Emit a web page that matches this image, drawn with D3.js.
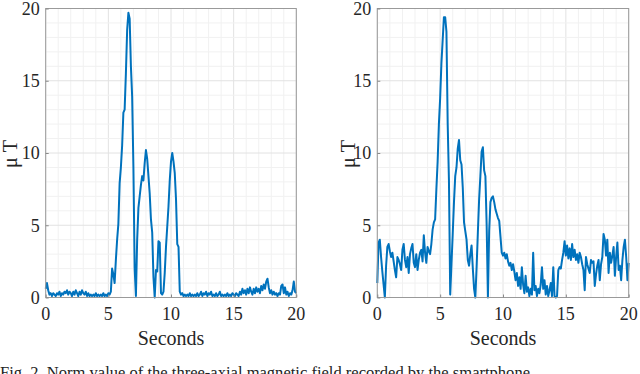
<!DOCTYPE html>
<html>
<head>
<meta charset="utf-8">
<script src="https://cdn.jsdelivr.net/npm/d3@7"></script>
<style>
	body { margin: 0; background: #fff; }
	svg { display: block; font-family: 'Liberation Serif', 'Times New Roman', serif; }
</style>
</head>
<body>
<svg id="chart" width="640" height="374"></svg>
<script>
const dt = 0.1;
const xTicks = [0, 5, 10, 15, 20];
const yTicks = [0, 5, 10, 15, 20];
const xLabel = 'Seconds';
const yLabel = 'μ T';
const caption = 'Fig. 2. Norm value of the three-axial magnetic field recorded by the smartphone';

// one row per second, 0.1 s apart
const leftField = [
	0.6, 1.0, 0.5, 0.2, 0.3, 0.1, 0.3, 0.2, 0.1, 0.3,
	0.2, 0.4, 0.1, 0.3, 0.2, 0.4, 0.3, 0.5, 0.2, 0.4,
	0.3, 0.1, 0.4, 0.2, 0.5, 0.3, 0.1, 0.4, 0.2, 0.5,
	0.3, 0.2, 0.4, 0.1, 0.3, 0.1, 0.2, 0.1, 0.2, 0.1,
	0.3, 0.1, 0.2, 0.1, 0.2, 0.1, 0.3, 0.1, 0.2, 0.1,
	0.3, 0.2, 0.4, 2.0, 1.6, 1.0, 2.6, 4.0, 5.1, 7.9,
	9.0, 10.5, 12.8, 13.0, 15.5, 18.5, 19.7, 19.3, 16.0, 13.9,
	9.0, 2.0, 0.1, 4.0, 6.2, 7.0, 7.8, 8.4, 8.1, 9.3,
	10.2, 9.6, 8.4, 7.2, 5.4, 4.5, 1.4, 0.0, 1.9, 1.8,
	3.9, 3.8, 0.3, 0.2, 0.4, 1.7, 3.5, 4.9, 6.3, 8.1,
	9.4, 10.0, 9.4, 8.6, 6.8, 3.7, 3.5, 0.4, 0.2, 0.3,
	0.1, 0.2, 0.1, 0.2, 0.1, 0.3, 0.1, 0.2, 0.1, 0.2,
	0.1, 0.3, 0.1, 0.2, 0.4, 0.1, 0.3, 0.2, 0.4, 0.1,
	0.3, 0.2, 0.4, 0.1, 0.2, 0.1, 0.3, 0.1, 0.2, 0.4,
	0.1, 0.2, 0.1, 0.2, 0.1, 0.3, 0.1, 0.2, 0.1, 0.3,
	0.2, 0.1, 0.3, 0.2, 0.1, 0.4, 0.2, 0.6, 0.3, 0.5,
	0.2, 0.6, 0.3, 0.7, 0.4, 0.2, 0.6, 0.3, 0.7, 0.4,
	0.6, 0.3, 0.8, 0.5, 0.9, 0.6, 1.1, 1.3, 0.7, 0.3,
	0.5, 0.2, 0.4, 0.2, 0.3, 0.1, 0.3, 0.2, 0.8, 0.9,
	0.3, 0.7, 0.2, 0.4, 0.1, 0.3, 0.2, 0.5, 1.1, 0.4,
	0.3
];

const rightField = [
	1.0, 3.8, 4.0, 2.8, 1.8, 0.9, 0.0, 2.2, 3.5, 3.7,
	3.2, 2.8, 3.1, 2.5, 1.9, 1.4, 2.8, 2.6, 2.3, 1.9,
	3.3, 3.7, 2.6, 2.1, 2.8, 1.7, 3.0, 3.4, 3.7, 2.4,
	2.1, 3.0, 1.9, 2.6, 3.1, 3.3, 2.5, 4.3, 3.1, 2.4,
	3.5, 3.2, 3.0, 3.7, 4.7, 5.2, 5.4, 7.5, 9.4, 12.0,
	13.8, 16.2, 17.8, 19.4, 19.4, 18.4, 12.0, 8.1, 0.2, 2.3,
	4.4, 6.6, 8.4, 9.0, 10.3, 10.9, 9.5, 9.2, 7.6, 5.2,
	4.6, 4.0, 2.6, 2.2, 3.0, 3.6, 2.0, 0.6, 0.0, 2.1,
	4.5, 6.8, 8.4, 10.1, 10.4, 8.8, 8.4, 5.0, 0.0, 4.6,
	6.6, 6.9, 7.0, 6.6, 6.1, 5.8, 5.5, 5.3, 4.2, 3.1,
	2.9, 3.1, 2.7, 3.0, 2.5, 2.2, 2.4, 1.9, 2.3, 1.8,
	1.2, 1.7, 0.8, 1.4, 0.6, 2.1, 0.9, 0.3, 1.5, 0.4,
	0.7, 0.1, 0.6, 0.2, 3.1, 0.5, 0.8, 0.1, 0.6, 0.3,
	0.9, 2.1, 0.6, 1.2, 0.2, 0.8, 0.1, 0.5, 1.0, 0.1,
	2.1, 0.1, 0.0, 0.1, 1.9, 2.1, 2.0, 2.6, 3.1, 3.9,
	2.9, 3.6, 2.7, 3.4, 2.6, 3.7, 2.8, 3.3, 2.6, 3.0,
	2.4, 3.1, 2.8, 2.3, 1.9, 0.5, 2.8, 2.3, 2.0, 1.7,
	2.6, 2.4, 2.5, 0.8, 1.6, 2.2, 2.6, 1.2, 2.3, 2.8,
	4.4, 4.0, 2.9, 4.0, 1.7, 3.1, 2.4, 2.9, 3.5, 1.5,
	2.8, 3.8, 1.9, 2.2, 1.2, 2.6, 3.5, 4.0, 2.8, 1.2,
	2.4
];

const $svg = d3.select('#chart');
const plotTop = 8.5;
const plotBottom = 297.5;
const lineColor = '#0072bd';

function drawPanel(values, left, right, labelX) {
	const x = d3.scaleLinear().domain([0, 20]).range([left, right]);
	const y = d3.scaleLinear().domain([0, 20]).range([plotBottom, plotTop]);
	const $g = $svg.append('g');

	// grid, minor then major
	const minor = d3.range(0, 21);
	$g.append('g')
		.selectAll('line')
		.data(minor)
		.enter()
		.append('line')
		.attr('x1', d => x(d)).attr('x2', d => x(d))
		.attr('y1', plotTop).attr('y2', plotBottom)
		.attr('stroke', d => (d % 5 === 0 ? '#e2e2e2' : '#f1f1f1'))
		.attr('stroke-width', 1);
	$g.append('g')
		.selectAll('line')
		.data(minor)
		.enter()
		.append('line')
		.attr('y1', d => y(d)).attr('y2', d => y(d))
		.attr('x1', left).attr('x2', right)
		.attr('stroke', d => (d % 5 === 0 ? '#e2e2e2' : '#f1f1f1'))
		.attr('stroke-width', 1);

	const line = d3.line()
		.x((d, i) => x(i * dt))
		.y(d => y(d));

	$g.append('path')
		.datum(values)
		.attr('d', line)
		.attr('fill', 'none')
		.attr('stroke', lineColor)
		.attr('stroke-width', 2)
		.attr('stroke-linejoin', 'round');

	$g.append('rect')
		.attr('x', left).attr('y', plotTop)
		.attr('width', right - left).attr('height', plotBottom - plotTop)
		.attr('fill', 'none')
		.attr('stroke', '#9a9a9a')
		.attr('stroke-width', 1);

	// inward ticks
	const xAxis = d3.axisBottom(x).tickValues(xTicks).tickSize(-3).tickSizeOuter(0).tickFormat('');
	const yAxis = d3.axisLeft(y).tickValues(yTicks).tickSize(-3).tickSizeOuter(0).tickFormat('');
	[$g.append('g').attr('transform', `translate(0,${plotBottom})`).call(xAxis),
		$g.append('g').attr('transform', `translate(${left},0)`).call(yAxis)]
		.forEach($a => {
			$a.select('.domain').remove();
			$a.selectAll('line').attr('stroke', '#8a8a8a');
		});

	$g.append('g')
		.selectAll('text')
		.data(xTicks)
		.enter()
		.append('text')
		.attr('x', d => x(d))
		.attr('y', 320)
		.attr('text-anchor', 'middle')
		.attr('font-size', 18)
		.attr('fill', '#262626')
		.text(d => d);

	$g.append('g')
		.selectAll('text')
		.data(yTicks)
		.enter()
		.append('text')
		.attr('x', left - 6)
		.attr('y', d => y(d))
		.attr('dy', '0.35em')
		.attr('text-anchor', 'end')
		.attr('font-size', 18)
		.attr('fill', '#262626')
		.text(d => d);

	$g.append('text')
		.attr('x', (left + right) / 2)
		.attr('y', 345)
		.attr('text-anchor', 'middle')
		.attr('font-size', 20)
		.attr('fill', '#262626')
		.text(xLabel);

	$g.append('text')
		.attr('transform', `translate(${labelX},154) rotate(-90)`)
		.attr('text-anchor', 'middle')
		.attr('font-size', 20)
		.attr('fill', '#262626')
		.text(yLabel);
}

drawPanel(leftField, 45.7, 296.3, 17);
drawPanel(rightField, 377.3, 628.7, 355);

$svg.append('text')
	.attr('x', 0)
	.attr('y', 378)
	.attr('font-size', 17)
	.attr('fill', '#222')
	.attr('textLength', 530)
	.attr('lengthAdjust', 'spacingAndGlyphs')
	.text(caption);
</script>
</body>
</html>
